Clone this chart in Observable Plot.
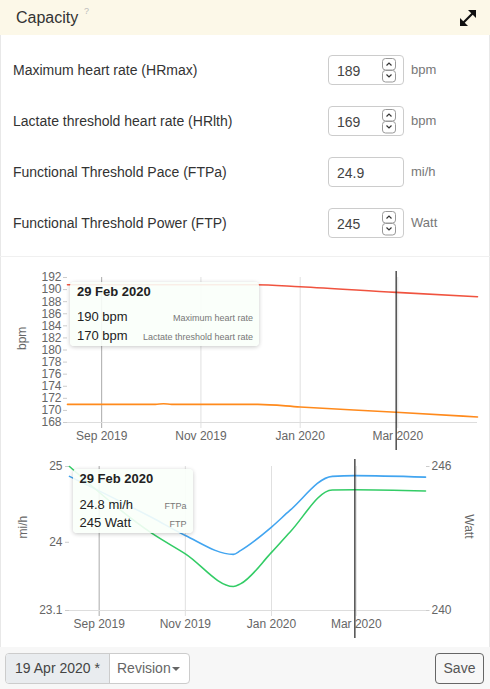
<!DOCTYPE html>
<html><head><meta charset="utf-8">
<script src="https://cdn.jsdelivr.net/npm/d3@7"></script>
<script src="https://cdn.jsdelivr.net/npm/@observablehq/plot@0.6"></script>
<style>
html,body{margin:0;padding:0;background:#fff;}
body{width:490px;height:689px;position:relative;overflow:hidden;font-family:"Liberation Sans",Arial,sans-serif;color:#333;}
.abs{position:absolute;}
.edge{position:absolute;top:0;width:1px;height:689px;background:#e8e8e8;}
.hdr{left:0;top:0;width:490px;height:35px;background:#fcf8e8;}
.ttl{left:16px;top:8px;font-size:16px;line-height:20px;color:#333;}
.q{left:84px;top:6px;font-size:9px;color:#bbb;}
.lbl{left:13px;font-size:14px;line-height:18px;color:#333;}
.inp{left:328px;width:74px;height:28px;border:1px solid #ccc;border-radius:4px;background:#fff;}
.inp span{position:absolute;left:8px;top:6px;font-size:14px;line-height:18px;color:#444;}
.inp svg{position:absolute;left:53px;top:2px;}
.unit{left:411px;font-size:13px;line-height:18px;color:#777;}
.sep{left:0;top:256px;width:490px;height:1px;background:#f0f0f0;}
.tip{background:rgba(250,255,250,0.9);border-radius:4px;box-shadow:0 1px 4px rgba(0,0,0,0.22);z-index:5;}
.tip .t{position:absolute;left:7px;top:2px;font-size:13px;font-weight:bold;line-height:16px;color:#222;}
.tip .v{position:absolute;left:7px;font-size:13px;line-height:16px;color:#222;}
.tip .n{position:absolute;right:6px;font-size:9px;line-height:12px;color:#777;}
.ftr{left:0;top:647px;width:490px;height:42px;background:#f7f7f7;}
.grp{left:5px;top:653px;width:183px;height:29px;border:1px solid #ccc;border-radius:4px;overflow:hidden;background:#fff;}
.grp .a{position:absolute;left:0;top:0;width:103px;height:29px;background:#e9ecef;border-right:1px solid #ccc;font-size:14px;line-height:29px;text-align:center;color:#444;}
.grp .b{position:absolute;left:111px;top:0;font-size:14px;line-height:29px;color:#666;}
.grp .c{position:absolute;left:166px;top:13px;width:0;height:0;border-left:4px solid transparent;border-right:4px solid transparent;border-top:4px solid #666;}
.save{left:435px;top:653px;width:47px;height:29px;border:1px solid #666;border-radius:4px;font-size:14px;line-height:29px;text-align:center;color:#555;background:#f7f7f7;}
</style>
</head><body>
<div class="edge" style="left:0"></div>
<div class="edge" style="left:489px"></div>
<div class="abs hdr"></div>
<div class="abs ttl">Capacity</div>
<div class="abs q">?</div>
<svg class="abs" style="left:459px;top:9px" width="18" height="18" viewBox="0 0 18 18">
  <line x1="4" y1="14" x2="14" y2="4" stroke="#111" stroke-width="2.2"/>
  <polygon points="17,1 9,1 17,9" fill="#111"/>
  <polygon points="1,17 9,17 1,9" fill="#111"/>
</svg>
<div id="form"></div>
<div class="abs sep"></div>
<div id="chart1" class="abs" style="left:0;top:262px"></div>
<div id="chart2" class="abs" style="left:0;top:452px"></div>
<div id="tips"></div>
<div class="abs ftr"></div>
<div class="abs grp"><div class="a">19 Apr 2020 *</div><div class="b">Revision</div><div class="c"></div></div>
<div class="abs save">Save</div>
<script>
// ---------- form data ----------
const fieldLabels = ["Maximum heart rate (HRmax)", "Lactate threshold heart rate (HRlth)", "Functional Threshold Pace (FTPa)", "Functional Threshold Power (FTP)"];
const fieldValues = ["189", "169", "24.9", "245"];
const fieldUnits = ["bpm", "bpm", "mi/h", "Watt"];
const fieldSpinner = [true, true, false, true];

// ---------- chart data ----------
const xDomain = ["2019-08-11", "2020-04-19"];
const xTicks = ["2019-09-01", "2019-11-01", "2020-01-01", "2020-03-01"];
const seasonTick = "2019-09-01";
const cursorDate = "2020-02-29";

const hrTicks = [168, 170, 172, 174, 176, 178, 180, 182, 184, 186, 188, 190, 192];
const hrDomain = [168, 192];
const hrmaxDates = ["2019-08-11", "2019-12-04", "2020-01-01", "2020-02-29", "2020-04-19"];
const hrmaxValues = [190.8, 190.8, 190.47, 189.53, 188.82];
const hrlthDates = ["2019-08-11", "2019-10-04", "2019-10-09", "2019-10-14", "2019-12-06", "2020-01-01", "2020-02-29", "2020-04-19"];
const hrlthValues = [171.0, 171.0, 171.1, 171.0, 171.0, 170.57, 169.70, 168.92];

const ftpDates = ["2019-08-11", "2019-10-09", "2019-11-01", "2019-12-05", "2019-12-10", "2020-01-01", "2020-01-14", "2020-02-13", "2020-02-29", "2020-04-19"];
const ftpaValues = [24.87, 24.32, 24.09, 23.84, 23.89, 24.20, 24.42, 24.87, 24.88, 24.86];
const ftpValues = [246.0, 243.19, 242.36, 241.0, 241.11, 242.42, 243.26, 245.02, 245.03, 244.98];
const paceDomain = [23.1, 25];
const paceTicks = [23.1, 24, 25];
const wattDomain = [240, 246];
const wattTicks = [240, 246];

// ---------- tooltip texts ----------
const tipTitle = "29 Feb 2020";
const hrTipValues = ["190 bpm", "170 bpm"];
const hrTipLabels = ["Maximum heart rate", "Lactate threshold heart rate"];
const powTipValues = ["24.8 mi/h", "245 Watt"];
const powTipLabels = ["FTPa", "FTP"];

// ---------- form ----------
const form = document.getElementById("form");
const spinner = `<svg width="15" height="25" viewBox="0 0 15 25">
 <rect x="0.5" y="0.5" width="13" height="11.5" rx="3" fill="#fff" stroke="#999"/>
 <rect x="0.5" y="12.5" width="13" height="11.5" rx="3" fill="#fff" stroke="#999"/>
 <polyline points="4.5,7.5 7,5 9.5,7.5" fill="none" stroke="#333" stroke-width="1.2"/>
 <polyline points="4.5,16.5 7,19 9.5,16.5" fill="none" stroke="#333" stroke-width="1.2"/>
</svg>`;
fieldLabels.forEach((lab, i) => {
  const cy = 69.5 + 51 * i;
  form.insertAdjacentHTML("beforeend",
    `<div class="abs lbl" style="top:${cy - 9}px">${lab}</div>
     <div class="abs inp" style="top:${cy - 15}px"><span>${fieldValues[i]}</span>${fieldSpinner[i] ? spinner : ""}</div>
     <div class="abs unit" style="top:${cy - 9}px">${fieldUnits[i]}</div>`);
});

// ---------- charts ----------
const parse = d3.utcParse("%Y-%m-%d");
const fmt = d3.utcFormat("%b %Y");
const toRows = (dates, vals) => dates.map((d, i) => ({date: parse(d), v: vals[i]}));
const hrmax = toRows(hrmaxDates, hrmaxValues);
const hrlth = toRows(hrlthDates, hrlthValues);
const ftpa = toRows(ftpDates, ftpaValues);
const toPace = w => paceDomain[0] + (w - wattDomain[0]) / (wattDomain[1] - wattDomain[0]) * (paceDomain[1] - paceDomain[0]);
const toWatt = p => wattDomain[0] + (p - paceDomain[0]) / (paceDomain[1] - paceDomain[0]) * (wattDomain[1] - wattDomain[0]);
const ftp = toRows(ftpDates, ftpValues.map(toPace));

const style = {fontFamily: "Liberation Sans, Arial, sans-serif", fontSize: "12px", color: "#666", background: "transparent", overflow: "visible"};
const xOpts = {type: "utc", domain: xDomain.map(parse), label: null};
const otherTicks = xTicks.filter(d => d !== seasonTick).map(parse);

const chart1 = Plot.plot({
  width: 490, height: 190,
  marginLeft: 67, marginRight: 13, marginTop: 15, marginBottom: 30,
  style,
  x: xOpts,
  y: {domain: hrDomain, label: null},
  marks: [
    Plot.gridX(otherTicks, {stroke: "#e0e0e0", strokeOpacity: 1, insetBottom: -6}),
    Plot.gridX([parse(seasonTick)], {stroke: "#aaa", strokeOpacity: 1, insetBottom: -6}),
    Plot.ruleY([hrDomain[0]], {stroke: "#ddd", insetLeft: -4}),
    Plot.axisX(xTicks.map(parse), {tickSize: 0, tickPadding: 9, tickFormat: fmt, label: null}),
    Plot.axisY(hrTicks, {tickSize: 4, tickPadding: 2, stroke: "#ccc", tickFormat: d => String(d), label: null}),
    Plot.text(["bpm"], {frameAnchor: "left", dx: -45, rotate: -90, fill: "#666", fontSize: 12}),
    Plot.lineY(hrmax, {x: "date", y: "v", stroke: "#f0533f", strokeWidth: 1.6, curve: "monotone-x"}),
    Plot.lineY(hrlth, {x: "date", y: "v", stroke: "#ff8a1c", strokeWidth: 1.6, curve: "monotone-x"}),
    Plot.ruleX([parse(cursorDate)], {stroke: "#222", strokeWidth: 1.2, insetTop: -6, insetBottom: -28})
  ]
});
document.getElementById("chart1").append(chart1);

const chart2 = Plot.plot({
  width: 490, height: 193,
  marginLeft: 69, marginRight: 65, marginTop: 14, marginBottom: 35,
  style,
  x: xOpts,
  y: {domain: paceDomain, label: null},
  marks: [
    Plot.gridX(otherTicks, {stroke: "#e0e0e0", strokeOpacity: 1, insetBottom: -6}),
    Plot.gridX([parse(seasonTick)], {stroke: "#aaa", strokeOpacity: 1, insetBottom: -6}),
    Plot.ruleY([paceDomain[0]], {stroke: "#ddd", insetLeft: -4, insetRight: -3.5}),
    Plot.axisX(xTicks.map(parse), {tickSize: 0, tickPadding: 9, tickFormat: fmt, label: null}),
    Plot.axisY(paceTicks, {tickSize: 4, tickPadding: 3, stroke: "#ccc", tickFormat: d => String(d), label: null}),
    Plot.axisY(wattTicks.map(toPace), {anchor: "right", tickSize: 3.5, tickPadding: 2.5, stroke: "#ccc", tickFormat: d => String(Math.round(toWatt(d))), label: null}),
    Plot.text(["mi/h"], {frameAnchor: "left", dx: -46.5, rotate: -90, fill: "#666", fontSize: 12}),
    Plot.text(["Watt"], {frameAnchor: "right", dx: 43.5, rotate: 90, fill: "#666", fontSize: 12}),
    Plot.lineY(ftpa, {x: "date", y: "v", stroke: "#42a5f0", strokeWidth: 1.6, curve: "monotone-x"}),
    Plot.lineY(ftp, {x: "date", y: "v", stroke: "#33cc66", strokeWidth: 1.6, curve: "monotone-x"}),
    Plot.ruleX([parse(cursorDate)], {stroke: "#222", strokeWidth: 1.2, insetTop: -7, insetBottom: -28})
  ]
});
document.getElementById("chart2").append(chart2);

// ---------- tooltips ----------
function tooltip(left, top, width, title, values, labels) {
  let html = `<div class="abs tip" style="left:${left}px;top:${top}px;width:${width}px;height:64px">`;
  html += `<div class="t">${title}</div>`;
  values.forEach((v, i) => {
    const cy = 35.8 + 18.4 * i;
    html += `<div class="v" style="top:${cy - 8}px">${v}</div><div class="n" style="top:${cy - 5}px">${labels[i]}</div>`;
  });
  html += `</div>`;
  document.getElementById("tips").insertAdjacentHTML("beforeend", html);
}
tooltip(70, 281.5, 189, tipTitle, hrTipValues, hrTipLabels);
tooltip(72.5, 469, 120, tipTitle, powTipValues, powTipLabels);
</script>
</body></html>
